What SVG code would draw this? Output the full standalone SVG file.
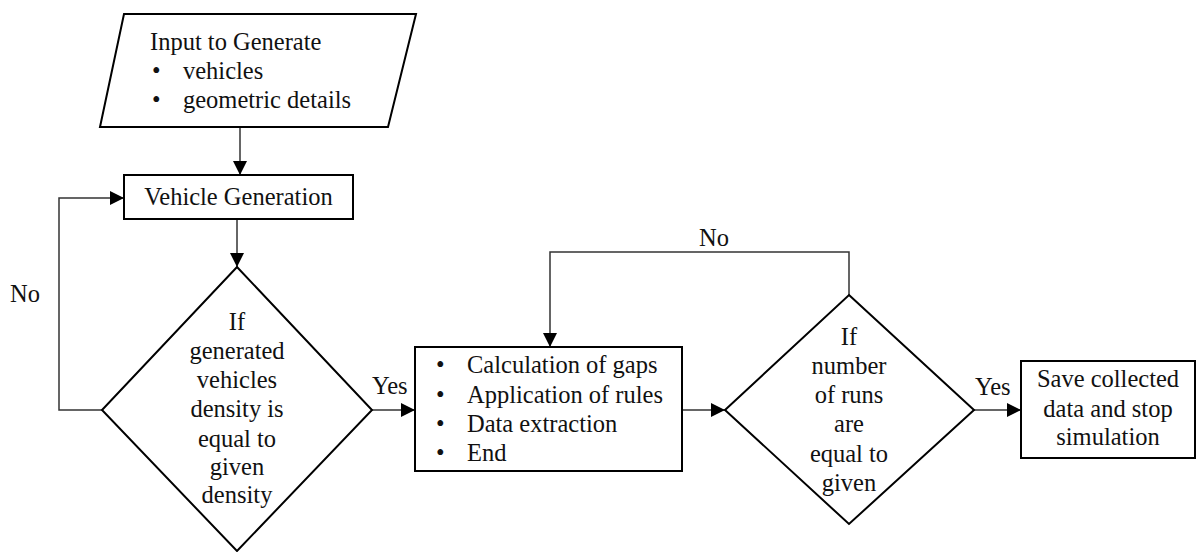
<svg xmlns="http://www.w3.org/2000/svg" width="1197" height="552" viewBox="0 0 1197 552">
<style>
.shape{fill:#fff;stroke:#000;stroke-width:2}
.conn{fill:none;stroke:#333;stroke-width:1.5}
.t{font-family:'Liberation Serif','Times New Roman','DejaVu Serif',serif;font-size:24.5px;fill:#111}
.c{text-anchor:middle}
</style>
<defs>
<marker id="arr" viewBox="0 0 10 10" refX="10" refY="5" markerWidth="14" markerHeight="14" markerUnits="userSpaceOnUse" orient="auto">
<path d="M0,0 L10,5 L0,10 z" fill="#000"/>
</marker>
</defs>
<g id="connectors">
<line class="conn" x1="240" y1="127" x2="240" y2="175" marker-end="url(#arr)"/>
<line class="conn" x1="237" y1="219" x2="237" y2="267" marker-end="url(#arr)"/>
<polyline class="conn" points="102,410 59,410 59,198 124,198" marker-end="url(#arr)"/>
<line class="conn" x1="372" y1="410" x2="415" y2="410" marker-end="url(#arr)"/>
<line class="conn" x1="682" y1="410" x2="725" y2="410" marker-end="url(#arr)"/>
<polyline class="conn" points="849,295 849,252 550,252 550,347" marker-end="url(#arr)"/>
<line class="conn" x1="974" y1="410" x2="1021" y2="410" marker-end="url(#arr)"/>
<text class="t" x="10" y="302">No</text>
<text class="t" x="372" y="394">Yes</text>
<text class="t" x="699" y="246">No</text>
<text class="t" x="975" y="395">Yes</text>
</g>
<g id="input">
<polygon class="shape" points="124,14 416,14 388,127 100,127"/>
<text class="t" x="150" y="50">Input to Generate</text>
<text class="t" x="152" y="79">•</text>
<text class="t" x="183" y="79">vehicles</text>
<text class="t" x="152" y="108">•</text>
<text class="t" x="183" y="108">geometric details</text>
</g>
<g id="vehicle-generation">
<rect class="shape" x="124" y="175" width="229" height="44"/>
<text class="t c" x="238.5" y="205">Vehicle Generation</text>
</g>
<g id="decision-density">
<polygon class="shape" points="237,267 372,410 237,551 102,410"/>
<text class="t c" x="237" y="330">If</text>
<text class="t c" x="237" y="359">generated</text>
<text class="t c" x="237" y="388">vehicles</text>
<text class="t c" x="237" y="417">density is</text>
<text class="t c" x="237" y="447">equal to</text>
<text class="t c" x="237" y="475">given</text>
<text class="t c" x="237" y="503">density</text>
</g>
<g id="process">
<rect class="shape" x="415" y="347" width="267" height="124"/>
<text class="t" x="436" y="373">•</text>
<text class="t" x="467" y="373">Calculation of gaps</text>
<text class="t" x="436" y="403">•</text>
<text class="t" x="467" y="403">Application of rules</text>
<text class="t" x="436" y="432">•</text>
<text class="t" x="467" y="432">Data extraction</text>
<text class="t" x="436" y="461">•</text>
<text class="t" x="467" y="461">End</text>
</g>
<g id="decision-runs">
<polygon class="shape" points="849,295 974,410 849,524 725,410"/>
<text class="t c" x="849" y="345">If</text>
<text class="t c" x="849" y="374">number</text>
<text class="t c" x="849" y="403">of runs</text>
<text class="t c" x="849" y="432">are</text>
<text class="t c" x="849" y="462">equal to</text>
<text class="t c" x="849" y="491">given</text>
</g>
<g id="save">
<rect class="shape" x="1021" y="361" width="174" height="97"/>
<text class="t c" x="1108" y="387">Save collected</text>
<text class="t c" x="1108" y="417">data and stop</text>
<text class="t c" x="1108" y="445">simulation</text>
</g>
</svg>
